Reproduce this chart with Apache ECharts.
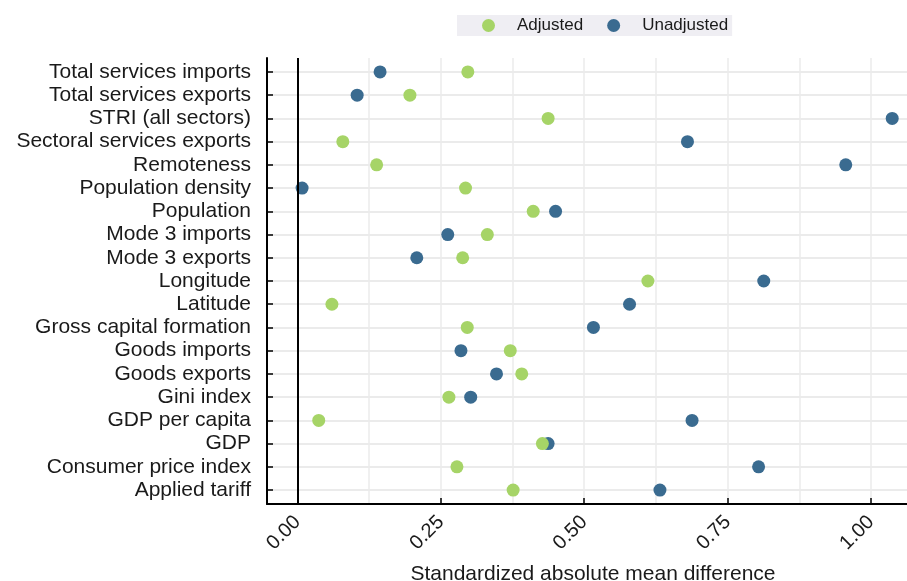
<!DOCTYPE html>
<html>
<head>
<meta charset="utf-8">
<script src="https://cdn.jsdelivr.net/npm/echarts@6/dist/echarts.min.js"></script>
<style>
  html, body { margin: 0; padding: 0; background: #fff; }
  #chart { width: 907px; height: 581px; }
</style>
</head>
<body>
<div id="chart"></div>
<script>
// covariates, top to bottom
var categories = [
  'Total services imports', 'Total services exports', 'STRI (all sectors)',
  'Sectoral services exports', 'Remoteness', 'Population density', 'Population',
  'Mode 3 imports', 'Mode 3 exports', 'Longitude', 'Latitude',
  'Gross capital formation', 'Goods imports', 'Goods exports', 'Gini index',
  'GDP per capita', 'GDP', 'Consumer price index', 'Applied tariff'
];
var adjusted = [0.297, 0.196, 0.437, 0.079, 0.138, 0.293, 0.411, 0.331, 0.288, 0.611,
  0.060, 0.296, 0.371, 0.391, 0.264, 0.037, 0.427, 0.278, 0.376];
var unadjusted = [0.144, 0.104, 1.037, 0.680, 0.956, 0.008, 0.450, 0.262, 0.208, 0.813,
  0.579, 0.516, 0.285, 0.347, 0.302, 0.688, 0.437, 0.804, 0.632];
var xTicks = [0, 0.25, 0.5, 0.75, 1];
var xGrid = [0, 0.125, 0.25, 0.375, 0.5, 0.625, 0.75, 0.875, 1];

var rowIdx = categories.map(function (c, i) { return i + 1; });
var font = 'Liberation Sans, Arial, sans-serif';

function pairs(vals) {
  return vals.map(function (v, i) { return [v, i + 1]; });
}

var myChart = echarts.init(document.getElementById('chart'));
var option = {
  animation: false,
  color: ['#3a6b90', '#a6d467'],
  legend: {
    data: ['Adjusted', 'Unadjusted'],
    top: 15,
    left: 457,
    icon: 'circle',
    itemWidth: 13,
    itemHeight: 13,
    itemGap: 24,
    padding: [2, 4, 2, 25],
    backgroundColor: '#efeef3',
    textStyle: { fontFamily: font, fontSize: 17, color: '#1a1a1a', padding: [0, 0, 0, 17] }
  },
  grid: { left: 267, right: 0, top: 58, bottom: 77, outerBoundsMode: 'none', containLabel: false },
  xAxis: [
    {
      type: 'value',
      min: -0.0532,
      max: 1.0628,
      name: 'Standardized absolute mean difference',
      nameLocation: 'middle',
      nameGap: 60,
      nameTextStyle: { fontFamily: font, fontSize: 21, color: '#1a1a1a', padding: [0, 0, 0, 12] },
      axisLine: { show: true, onZero: false, lineStyle: { color: '#000', width: 2 } },
      axisTick: { show: true, inside: true, length: 6, customValues: xTicks, lineStyle: { color: '#000', width: 1.5 } },
      axisLabel: {
        customValues: xTicks, rotate: 45, margin: 15,
        fontFamily: font, fontSize: 20, color: '#1a1a1a',
        formatter: function (v) { return v.toFixed(2); }
      },
      splitLine: { show: false }
    },
    {
      type: 'value',
      min: -0.0532,
      max: 1.0628,
      position: 'bottom',
      axisLine: { show: false },
      axisTick: { show: false, customValues: xGrid },
      axisLabel: { show: false },
      splitLine: { show: true, lineStyle: { color: '#ebebeb', width: 1.5 } }
    }
  ],
  yAxis: {
    type: 'value',
    inverse: true,
    min: 0.4,
    max: 19.6,
    axisLine: { show: true, onZero: false, lineStyle: { color: '#000', width: 2 } },
    axisTick: { show: true, inside: true, length: 6, customValues: rowIdx, lineStyle: { color: '#000', width: 1.5 } },
    axisLabel: {
      customValues: rowIdx, margin: 16,
      fontFamily: font, fontSize: 21, color: '#1a1a1a',
      formatter: function (v) { return categories[Math.round(v) - 1]; }
    },
    splitLine: { show: true, lineStyle: { color: '#ebebeb', width: 2 } }
  },
  series: [
    {
      name: 'Unadjusted',
      type: 'scatter',
      symbolSize: 13,
      itemStyle: { opacity: 1 },
      data: pairs(unadjusted),
      z: 3,
      markLine: {
        silent: true,
        symbol: 'none',
        label: { show: false },
        lineStyle: { color: '#000', width: 2, type: 'solid' },
        data: [{ xAxis: 0 }]
      }
    },
    {
      name: 'Adjusted',
      type: 'scatter',
      symbolSize: 13,
      itemStyle: { opacity: 1 },
      data: pairs(adjusted),
      z: 4
    }
  ]
};
myChart.setOption(option);
</script>
</body>
</html>
